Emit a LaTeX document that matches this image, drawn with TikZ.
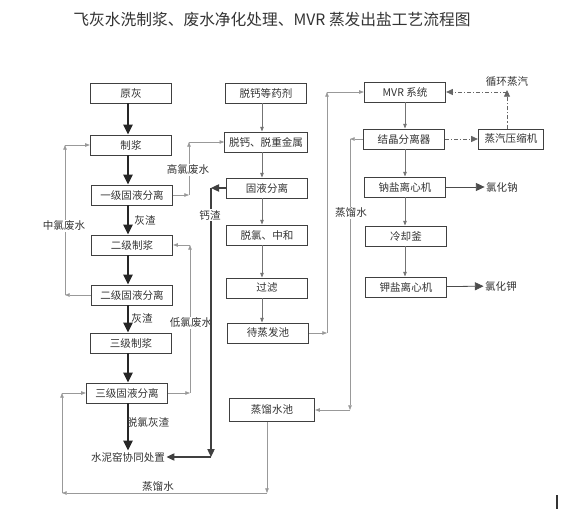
\documentclass[tikz,border=0pt]{standalone}
\usepackage{fontspec}
\setmainfont{Noto Sans CJK SC}
\usetikzlibrary{positioning, arrows.meta}

\begin{document}
\begin{tikzpicture}[
  x=0.75pt, y=-0.75pt,
  font=\fontsize{7.9}{9}\selectfont,
  box/.style={draw=black!75, line width=0.7pt, minimum width=61pt,
    minimum height=15pt, inner sep=1pt, text=black!80},
  lbl/.style={text=black!80, inner sep=1pt},
  onln/.style={lbl, fill=white},
  mainarr/.style={-{Triangle[length=7.5pt,width=7pt]}, line width=1.1pt, draw=black!85},
  flow/.style={-{Triangle[length=3.5pt,width=2.6pt]}, line width=0.5pt, draw=black!55},
  recyc/.style={-{Triangle[length=3.5pt,width=2.6pt]}, line width=0.5pt, draw=black!40},
  slagarr/.style={-{Triangle[length=6pt,width=5.5pt]}, line width=0.9pt, draw=black!75},
  outarr/.style={-{Triangle[length=6.5pt,width=6pt]}, line width=0.6pt, draw=black!70},
  steam/.style={-{Triangle[length=5pt,width=4.5pt]}, line width=0.6pt, draw=black!60,
    dash pattern=on 3pt off 1.5pt on 0.8pt off 1.5pt},
]
  \useasboundingbox (0,0) rectangle (571,509);

  \node[lbl, font=\fontsize{11.8}{14}\selectfont] (title) at (272,20)
    {飞灰水洗制浆、废水净化处理、MVR 蒸发出盐工艺流程图};

  % fly ash washing
  \node[box] (yh)  at (131,93)  {原灰};
  \node[box] (zj)  at (131,145) {制浆};
  \node[box] (s1)  at (132,195) {一级固液分离};
  \node[box] (zj2) at (132,245) {二级制浆};
  \node[box] (s2)  at (132,295) {二级固液分离};
  \node[box] (zj3) at (131,343) {三级制浆};
  \node[box] (s3)  at (127,393) {三级固液分离};
  \node[lbl] (snc) at (128,457) {水泥窑协同处置};

  % waste water treatment
  \node[box] (yj)  at (266,93)  {脱钙等药剂};
  \node[box, minimum width=62pt] (tg) at (266,142) {脱钙、脱重金属};
  \node[box] (gy)  at (267,188) {固液分离};
  \node[box] (tl)  at (267,235) {脱氯、中和};
  \node[box] (gl)  at (267,288) {过滤};
  \node[box] (dzf) at (268,333) {待蒸发池};
  \node[box, minimum width=64pt, minimum height=17pt] (zlsc) at (272,410) {蒸馏水池};

  % MVR
  \node[box] (mvr) at (405,92)  {MVR 系统};
  \node[box] (jj)  at (404,139) {结晶分离器};
  \node[box, minimum width=49pt] (ysj) at (511,139) {蒸汽压缩机};
  \node[box] (na)  at (405,187) {钠盐离心机};
  \node[box] (lq)  at (406,236) {冷却釜};
  \node[box] (ka)  at (406,287) {钾盐离心机};
  \node[lbl] (nacl) at (502,187) {氯化钠};
  \node[lbl] (kcl)  at (501,286) {氯化钾};
  \node[lbl] (xh)   at (507,82)  {循环蒸汽};

  % main line
  \coordinate (ax) at (128,0);
  \draw[mainarr] (yh.south -| ax) -- (zj.north -| ax);
  \draw[mainarr] (zj.south -| ax) -- (s1.north -| ax);
  \draw[mainarr] (s1.south -| ax) -- (zj2.north -| ax);
  \draw[mainarr] (zj2.south -| ax) -- (s2.north -| ax);
  \draw[mainarr] (s2.south -| ax) -- (zj3.north -| ax);
  \draw[mainarr] (zj3.south -| ax) -- (s3.north -| ax);
  \draw[mainarr] (s3.south -| ax) -- (snc.north -| ax);
  \node[lbl] (hz1) at (145,220) {灰渣};
  \node[lbl] (hz2) at (142,318) {灰渣};
  \node[lbl] (hz3) at (148,422) {脱氯灰渣};

  \coordinate (mx) at (262,0);
  \draw[flow] (yj.south -| mx) -- (tg.north -| mx);
  \draw[flow] (tg.south -| mx) -- (gy.north -| mx);
  \draw[flow] (gy.south -| mx) -- (tl.north -| mx);
  \draw[flow] (tl.south -| mx) -- (gl.north -| mx);
  \draw[flow] (gl.south -| mx) -- (dzf.north -| mx);

  \coordinate (rx) at (405,0);
  \draw[flow] (mvr.south -| rx) -- (jj.north -| rx);
  \draw[flow] (jj.south -| rx) -- (na.north -| rx);
  \draw[flow] (na.south -| rx) -- (lq.north -| rx);
  \draw[flow] (lq.south -| rx) -- (ka.north -| rx);
  \draw[outarr] (na) -- (nacl);
  \draw[outarr] (ka) -- (kcl);

  % waste water returns
  \coordinate (g1) at (189,195);
  \coordinate (g2) at (189,142);
  \draw[recyc] (s1) -- (g1);
  \draw[recyc] (g1) -- (g2);
  \draw[recyc] (g2) -- (tg);
  \node[onln] (gfs) at (188,170) {高氯废水};

  \coordinate (m1) at (65,295);
  \coordinate (m2) at (65,145);
  \draw[recyc] (s2) -- (m1);
  \draw[recyc] (m1) -- (m2);
  \draw[recyc] (m2) -- (zj);
  \node[onln] (zfs) at (64,226) {中氯废水};

  \coordinate (d1) at (190,393);
  \coordinate (d2) at (190,245);
  \draw[recyc] (s3) -- (d1);
  \draw[recyc] (d1) -- (d2);
  \draw[recyc] (d2) -- (zj2);
  \node[onln] (dfs) at (191,323) {低氯废水};

  % calcium slag
  \coordinate (c1) at (211,188);
  \coordinate (c2) at (211,457);
  \draw[slagarr] (gy) -- (c1);
  \draw[slagarr] (c1) -- (c2);
  \draw[slagarr] (c2) -- (snc);
  \node[onln] (gz) at (210,215) {钙渣};

  % to evaporation
  \coordinate (e1) at (327,333);
  \coordinate (e2) at (327,92);
  \draw[recyc] (dzf) -- (e1);
  \draw[recyc] (e1) -- (e2);
  \draw[recyc] (e2) -- (mvr);

  % distilled water
  \coordinate (w1) at (350,139);
  \coordinate (w2) at (350,410);
  \draw[recyc] (jj) -- (w1);
  \draw[recyc] (w1) -- (w2);
  \draw[recyc] (w2) -- (zlsc);
  \node[onln] (zls1) at (351,213) {蒸馏水};

  \coordinate (b1) at (267,493);
  \coordinate (b2) at (62,493);
  \coordinate (b3) at (62,393);
  \draw[recyc] (zlsc.south -| b1) -- (b1);
  \draw[recyc] (b1) -- (b2);
  \draw[recyc] (b2) -- (b3);
  \draw[recyc] (b3) -- (s3);
  \node[lbl] (zls2) at (158,487) {蒸馏水};

  % steam loop
  \coordinate (v1) at (507,90);
  \draw[steam] (jj) -- (ysj);
  \draw[steam] (ysj.north -| v1) -- (v1);
  \draw[steam] (v1 |- mvr) -- (mvr);

  \draw[line width=0.8pt, black!80] (557,495) -- (557,509);
\end{tikzpicture}
\end{document}
